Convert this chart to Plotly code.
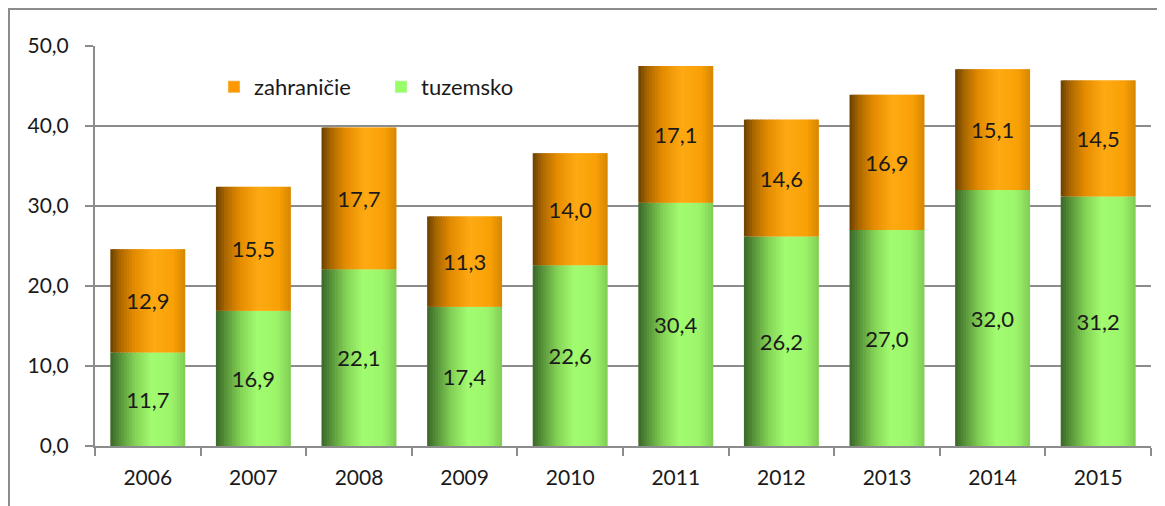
import plotly.graph_objects as go

years = ["2006", "2007", "2008", "2009", "2010", "2011", "2012", "2013", "2014", "2015"]
tuzemsko = [11.7, 16.9, 22.1, 17.4, 22.6, 30.4, 26.2, 27.0, 32.0, 31.2]
zahranicie = [12.9, 15.5, 17.7, 11.3, 14.0, 17.1, 14.6, 16.9, 15.1, 14.5]
y_ticks = [0, 10, 20, 30, 40, 50]

FONT = "Lato, 'Open Sans', sans-serif"
BAR_W = 0.71
N_SLICES = 28

# page body has an 8px margin: figure is drawn at (8, 8)
W, H = 1157, 498
ML, MR, MT, MB = 87, 14, 38, 60
PW, PH = W - ML - MR, H - MT - MB

green_stops = [(0.0, (0x3a, 0x66, 0x28)), (0.12, (0x55, 0x90, 0x38)), (0.32, (0x82, 0xd0, 0x55)),
               (0.55, (0xa2, 0xfc, 0x70)), (0.82, (0x9c, 0xf4, 0x6a)), (1.0, (0x80, 0xcc, 0x55))]
orange_stops = [(0.0, (0x6a, 0x40, 0x00)), (0.12, (0xa8, 0x66, 0x00)), (0.32, (0xe4, 0x8c, 0x00)),
                (0.58, (0xff, 0xaa, 0x14)), (0.84, (0xf8, 0xa0, 0x05)), (1.0, (0xd6, 0x86, 0x00))]


def interp(stops, t):
    for (t0, c0), (t1, c1) in zip(stops[:-1], stops[1:]):
        if t0 <= t <= t1:
            f = (t - t0) / (t1 - t0) if t1 > t0 else 0
            return "rgb(%d,%d,%d)" % tuple(round(a + (b - a) * f) for a, b in zip(c0, c1))
    return "rgb(%d,%d,%d)" % stops[-1][1]


fig = go.Figure()

# legend entries
fig.add_trace(go.Bar(x=years, y=[None] * len(years), name="zahraničie", marker_color="#ff9900",
                     showlegend=True))
fig.add_trace(go.Bar(x=years, y=[None] * len(years), name="tuzemsko", marker_color="#99ff66",
                     showlegend=True))

sw = BAR_W / N_SLICES
for vals, base, stops in [(tuzemsko, [0] * len(years), green_stops),
                          (zahranicie, tuzemsko, orange_stops)]:
    for i in range(N_SLICES):
        t = (i + 0.5) / N_SLICES
        w = sw * 1.6 if i < N_SLICES - 1 else sw
        fig.add_trace(go.Bar(
            x=years, y=vals, base=base, width=w, offset=-BAR_W / 2 + i * sw,
            marker=dict(color=interp(stops, t), line=dict(width=0)),
            showlegend=False, hoverinfo="skip"))

# data labels
for vals, base in [(tuzemsko, [0] * len(years)), (zahranicie, tuzemsko)]:
    fig.add_trace(go.Bar(
        x=years, y=vals, base=base, width=BAR_W,
        marker=dict(color="rgba(0,0,0,0)", line=dict(width=0)),
        text=[f"{v:.1f}".replace(".", ",") for v in vals],
        textposition="inside", insidetextanchor="middle", constraintext="none",
        textfont=dict(family=FONT, size=22, color="#1a1a1a"),
        showlegend=False, hoverinfo="skip"))

fig.update_layout(
    barmode="overlay",
    width=W, height=H,
    margin=dict(l=ML, r=MR, t=MT, b=MB, autoexpand=False),
    paper_bgcolor="white", plot_bgcolor="white",
    separators=", ",
    font=dict(family=FONT, size=21, color="#1a1a1a"),
    legend=dict(orientation="h", x=(214 - 95) / PW, y=(446 - 87) / PH, xanchor="left",
                yanchor="middle", traceorder="normal",
                font=dict(family=FONT, size=22, color="#1a1a1a"),
                bgcolor="rgba(0,0,0,0)", entrywidth=122, entrywidthmode="pixels",
                itemwidth=30),
    shapes=[dict(type="rect", xref="paper", yref="paper",
                 x0=(9 - 95) / PW, x1=1.2, y0=-0.5, y1=(446 - 9) / PH,
                 line=dict(color="#8c8c8c", width=2), fillcolor="rgba(0,0,0,0)", layer="below")],
)
fig.update_yaxes(range=[0, 50], tickvals=y_ticks, tickformat=".1f",
                 showgrid=True, gridcolor="#8c8c8c", gridwidth=2,
                 showline=True, linecolor="#8c8c8c", linewidth=2,
                 ticks="outside", ticklen=8, tickcolor="#8c8c8c", tickwidth=2,
                 ticklabelstandoff=12,
                 zeroline=False, tickfont=dict(family=FONT, size=21, color="#1a1a1a"))
fig.update_xaxes(type="category", showgrid=False, showline=True, linecolor="#8c8c8c", linewidth=2,
                 ticks="outside", tickson="boundaries", ticklen=8, tickcolor="#8c8c8c", tickwidth=2,
                 ticklabelstandoff=12,
                 tickfont=dict(family=FONT, size=21, color="#1a1a1a"))

fig.write_html("out.html")
